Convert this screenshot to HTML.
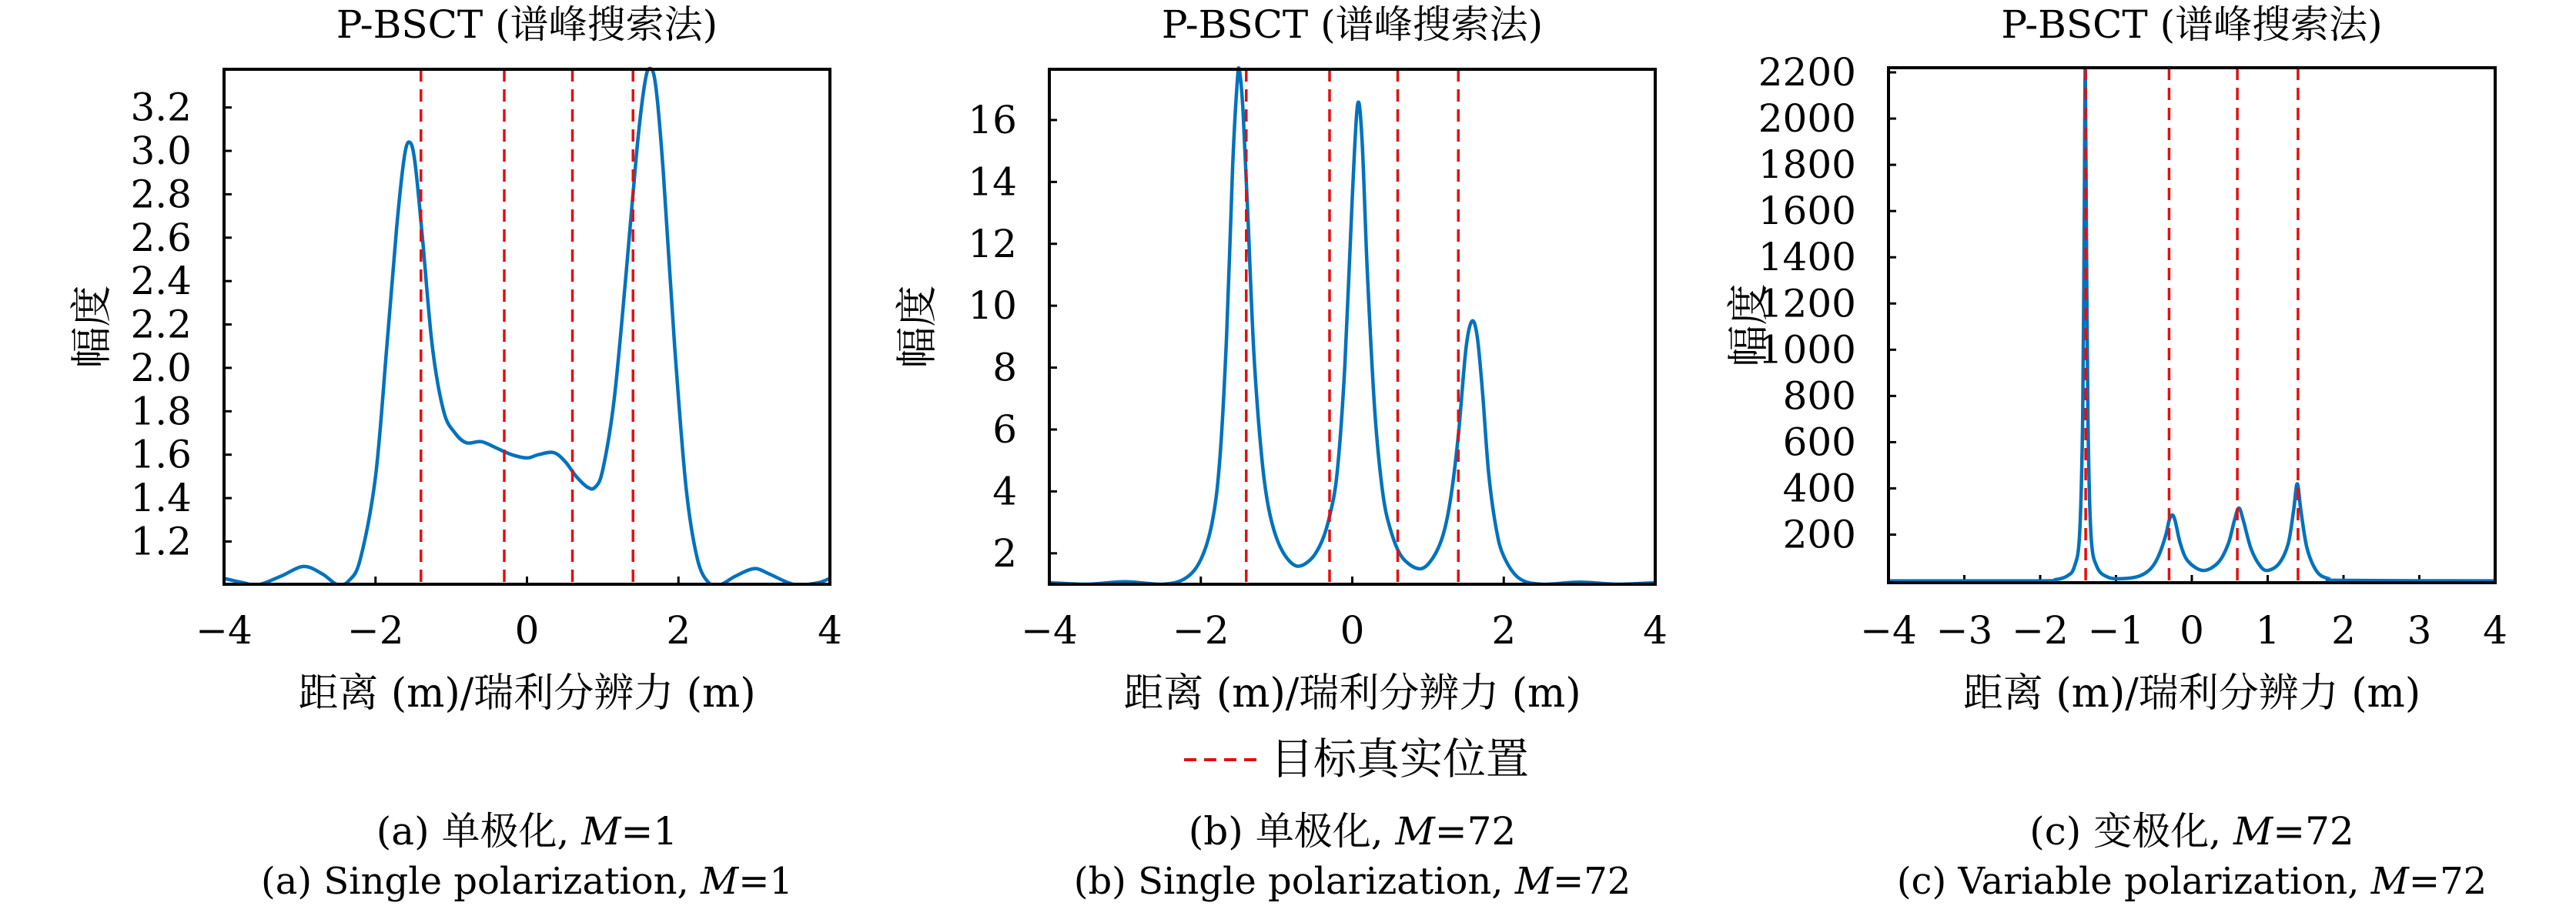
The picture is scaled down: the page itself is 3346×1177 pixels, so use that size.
<!DOCTYPE html>
<html><head><meta charset="utf-8"><style>
html,body{margin:0;padding:0;background:#fff;}
svg{display:block;}
svg text{font-family:"DejaVu Serif","Noto Serif CJK SC",serif;fill:#000;}
</style></head><body>
<svg id="fig" width="3346" height="1177" viewBox="0 0 3346 1177" xmlns="http://www.w3.org/2000/svg">
<g id="legend">
<line x1="1538" y1="987" x2="1632" y2="987" stroke="#e01010" stroke-width="4" stroke-dasharray="16,10"/>
<text x="1650" y="987" font-size="56" dominant-baseline="central">目标真实位置</text>
</g>
</svg>
<script>
// Target positions (shared)
const targets = [-1.4, -0.3, 0.6, 1.4];

// Panel (a) data
const aX = [-4,-3.75,-3.55,-3.25,-2.95,-2.7,-2.5,-2.35,-2.2,-2.0,-1.85,-1.72,-1.62,-1.55,-1.48,-1.38,-1.25,-1.1,-0.95,-0.8,-0.6,-0.4,-0.2,0.0,0.15,0.35,0.5,0.65,0.8,0.9,1.0,1.15,1.3,1.45,1.55,1.62,1.7,1.8,1.95,2.1,2.25,2.4,2.55,2.75,3.0,3.2,3.45,3.6,3.85,4];
const aY = [1.03,1.01,1.0,1.04,1.085,1.05,1.0,1.02,1.12,1.5,2.1,2.65,2.97,3.04,2.95,2.6,2.1,1.8,1.7,1.655,1.66,1.63,1.6,1.585,1.6,1.61,1.57,1.5,1.45,1.45,1.53,1.85,2.4,3.0,3.3,3.38,3.3,2.9,2.1,1.45,1.12,1.01,1.0,1.04,1.075,1.05,1.01,1.0,1.01,1.03];
const aYTicks = [1.2,1.4,1.6,1.8,2.0,2.2,2.4,2.6,2.8,3.0,3.2];
const aYTickLabels = ["1.2","1.4","1.6","1.8","2.0","2.2","2.4","2.6","2.8","3.0","3.2"];
const aXTicks = [-4,-2,0,2,4];
const aXTickLabels = ["\u22124","\u22122","0","2","4"];

// Panel (b) data
const bX = [-4,-3.5,-3.0,-2.5,-2.2,-2.0,-1.85,-1.75,-1.66,-1.58,-1.52,-1.49,-1.44,-1.38,-1.3,-1.2,-1.1,-0.95,-0.75,-0.55,-0.4,-0.3,-0.2,-0.1,0.0,0.07,0.13,0.2,0.3,0.4,0.5,0.65,0.88,1.05,1.2,1.3,1.4,1.5,1.58,1.65,1.72,1.8,1.9,2.0,2.2,2.5,3.0,3.5,4];
const bY = [1.05,1.0,1.08,1.0,1.2,1.8,3.0,5,9,14.5,17.2,17.6,16.2,13,8.5,5.2,3.4,2.2,1.6,1.8,2.4,3.2,4.6,8,13.5,16.5,15.3,11,6.5,4,2.8,1.9,1.5,1.8,2.6,3.8,5.8,8.6,9.5,9.0,7.2,4.6,2.8,1.9,1.2,1.0,1.07,1.0,1.05];
const bYTicks = [2,4,6,8,10,12,14,16];
const bYTickLabels = ["2","4","6","8","10","12","14","16"];
const bXTicks = [-4,-2,0,2,4];
const bXTickLabels = ["\u22124","\u22122","0","2","4"];

// Panel (c) data
const cX = [-4,-2,-1.8,-1.65,-1.55,-1.48,-1.44,-1.42,-1.405,-1.39,-1.37,-1.33,-1.25,-1.1,-0.9,-0.7,-0.55,-0.45,-0.35,-0.3,-0.26,-0.22,-0.15,-0.05,0.15,0.35,0.48,0.56,0.62,0.68,0.78,0.9,1.0,1.15,1.27,1.34,1.39,1.44,1.52,1.65,1.8,2,4];
const cY = [0,0,5,20,60,200,700,1500,2220,1500,700,200,60,15,10,20,50,100,190,260,285,260,160,85,45,80,160,260,315,260,140,65,45,75,160,300,420,300,140,40,10,2,0];
const cYTicks = [200,400,600,800,1000,1200,1400,1600,1800,2000,2200];
const cYTickLabels = ["200","400","600","800","1000","1200","1400","1600","1800","2000","2200"];
const cXTicks = [-4,-3,-2,-1,0,1,2,3,4];
const cXTickLabels = ["\u22124","\u22123","\u22122","\u22121","0","1","2","3","4"];

const NS = "http://www.w3.org/2000/svg";
const svg = document.getElementById('fig');
function mk(tag, attrs, parent){const e=document.createElementNS(NS,tag);for(const k in attrs)e.setAttribute(k,attrs[k]);parent.appendChild(e);return e;}

function smoothPath(pts){
  let d = "M"+pts[0][0].toFixed(1)+","+pts[0][1].toFixed(1);
  for(let i=0;i<pts.length-1;i++){
    const p0=pts[Math.max(0,i-1)],p1=pts[i],p2=pts[i+1],p3=pts[Math.min(pts.length-1,i+2)];
    const c1=[p1[0]+(p2[0]-p0[0])/6,p1[1]+(p2[1]-p0[1])/6];
    const c2=[p2[0]-(p3[0]-p1[0])/6,p2[1]-(p3[1]-p1[1])/6];
    d+=" C"+c1[0].toFixed(1)+","+c1[1].toFixed(1)+" "+c2[0].toFixed(1)+","+c2[1].toFixed(1)+" "+p2[0].toFixed(1)+","+p2[1].toFixed(1);
  }
  return d;
}

function panel(id, L, R, T, B, ymin, ymax, xs, ys, yt, ytl, xt, xtl, cap1, cap2, capItal1, capItal2){
  const g = mk('g',{},svg);
  
  
  const sx = v => L + (v+4)/8*(R-L);
  const sy = v => B - (v-ymin)/(ymax-ymin)*(B-T);
  const cx = (L+R)/2;
  const title = mk('text',{x:cx,y:32,'font-size':50,'text-anchor':'middle','dominant-baseline':'central'},g);
  title.textContent = 'P-BSCT (谱峰搜索法)';
  
  
  const clip = mk('clipPath',{id:'clip'+id},g);
  mk('rect',{x:L,y:T-4,width:R-L,height:B-T+4},clip);
  yt.forEach((v,i)=>{
    const t = mk('line',{x1:L,x2:L+10,y1:sy(v),y2:sy(v),stroke:'#000','stroke-width':3},g);
    
    
    const lb = mk('text',{x:L-42,y:sy(v),'font-size':50,'text-anchor':'end','dominant-baseline':'central'},g);
    lb.textContent = ytl[i];
    
    
  });
  xt.forEach((v,i)=>{
    const t = mk('line',{x1:sx(v),x2:sx(v),y1:B,y2:B-10,stroke:'#000','stroke-width':3},g);
    
    
    const lb = mk('text',{x:sx(v),y:819,'font-size':50,'text-anchor':'middle','dominant-baseline':'central'},g);
    lb.textContent = xtl[i];
    
    
  });
  const pts = xs.map((x,i)=>[sx(x), sy(ys[i])]);
  const curve = mk('path',{d:smoothPath(pts),fill:'none',stroke:'#0072BD','stroke-width':4.5,'clip-path':'url(#clip'+id+')','stroke-linejoin':'round'},g);
  
  
  targets.forEach(t=>{
    const l = mk('line',{x1:sx(t),x2:sx(t),y1:T,y2:B,stroke:'#e01010','stroke-width':3.5,'stroke-dasharray':'16,10'},g);
    
    
  });
  const frame = mk('rect',{x:L,y:T,width:R-L,height:B-T,fill:'none',stroke:'#000','stroke-width':4},g);
  
  
  const yl = mk('text',{x:0,y:0,'font-size':54,'text-anchor':'middle','dominant-baseline':'central',transform:'translate('+(id==='c'?L-182:L-172)+','+((T+B)/2)+') rotate(-90)'},g);
  yl.textContent = '幅度';
  
  
  const xl = mk('text',{x:cx,y:901,'font-size':52,'text-anchor':'middle','dominant-baseline':'central'},g);
  xl.textContent = '距离 (m)/瑞利分辨力 (m)';
  
  
  const c1 = mk('text',{x:cx,y:1080,'font-size':50,'text-anchor':'middle','dominant-baseline':'central'},g);
  c1.innerHTML = cap1+'<tspan font-style="italic">M</tspan>='+capItal1;
  
  
  const c2 = mk('text',{x:cx,y:1145,'font-size':48,'text-anchor':'middle','dominant-baseline':'central'},g);
  c2.innerHTML = cap2+'<tspan font-style="italic">M</tspan>='+capItal2;
  
  
}

panel('a',291,1078,90,759,1.003,3.376,aX,aY,aYTicks,aYTickLabels,aXTicks,aXTickLabels,'(a) 单极化, ','(a) Single polarization, ','1','1');
panel('b',1363,2150,90,759,1.0,17.64,bX,bY,bYTicks,bYTickLabels,bXTicks,bXTickLabels,'(b) 单极化, ','(b) Single polarization, ','72','72');
panel('c',2453,3241,88,757,-8,2220,cX,cY,cYTicks,cYTickLabels,cXTicks,cXTickLabels,'(c) 变极化, ','(c) Variable polarization, ','72','72');
</script>
</body></html>
